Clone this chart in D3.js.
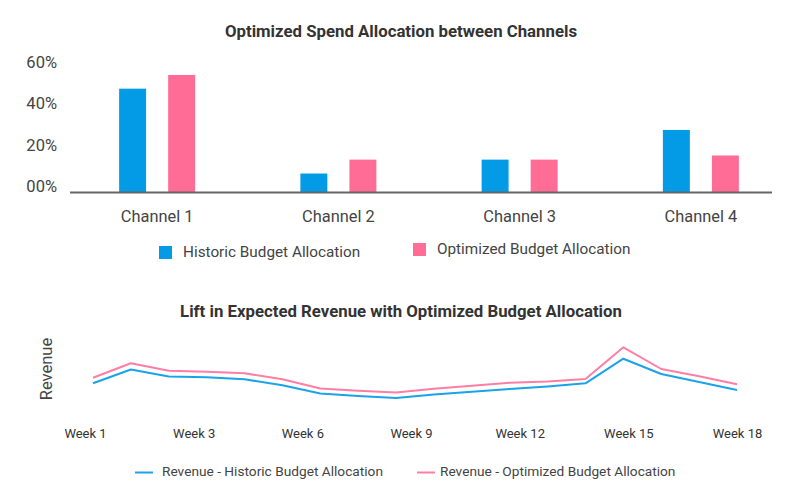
<!DOCTYPE html>
<html>
<head>
<meta charset="utf-8">
<script src="https://cdn.jsdelivr.net/npm/d3@7"></script>
<style>
  html, body { margin: 0; padding: 0; background: #fff; }
  svg { display: block; font-family: Roboto, "Noto Sans", sans-serif; }
</style>
</head>
<body>
<svg id="chart" width="800" height="501"></svg>
<script>
// ---- Data ----
const channels = ["Channel 1", "Channel 2", "Channel 3", "Channel 4"];
const historicShare = [49.8, 8.9, 15.6, 29.9];
const optimizedShare = [56.4, 15.6, 15.6, 17.6];
const shareTicks = [0, 20, 40, 60];

const weeks = d3.range(1, 19).map(d => "Week " + d);
const weekTickLabels = ["Week 1", "Week 3", "Week 6", "Week 9", "Week 12", "Week 15", "Week 18"];
const revenueHistoric = [26.7, 40.5, 33.5, 32.7, 30.7, 24.7, 16.5, 14.0, 12.0, 15.4, 18.2, 21.0, 23.6, 26.7, 51.3, 36.0, 28.0, 20.0];
const revenueOptimized = [32.3, 46.7, 39.3, 38.3, 36.7, 30.7, 21.5, 19.3, 17.5, 21.2, 24.2, 27.2, 28.5, 31.0, 62.7, 41.0, 33.8, 25.7];

const barSeries = [
  { name: "Historic Budget Allocation", values: historicShare, color: "#039be5" },
  { name: "Optimized Budget Allocation", values: optimizedShare, color: "#ff6d96" }
];
const lineSeries = [
  { name: "Revenue - Historic Budget Allocation", values: revenueHistoric, color: "#1aa3e8" },
  { name: "Revenue - Optimized Budget Allocation", values: revenueOptimized, color: "#ff7ea3" }
];

const svg = d3.select("#chart");

// ---- Bar chart ----
svg.append("text").attr("x", 401).attr("y", 33).attr("text-anchor", "middle")
  .attr("dominant-baseline", "middle").attr("font-size", 16.8).attr("font-weight", "bold")
  .attr("fill", "#333").text("Optimized Spend Allocation between Channels");

const x0 = d3.scaleBand().domain(channels).range([66.5, 791.5]).padding(0);
const x1 = d3.scaleBand().domain(barSeries.map(s => s.name)).range([-38, 38]).paddingInner(0.45).paddingOuter(0);
const y = d3.scaleLinear().domain([0, 60]).range([192, 67.5]);

const yAxis = svg.append("g").attr("transform", "translate(57,0)")
  .call(d3.axisLeft(y).tickValues(shareTicks).tickSize(0).tickPadding(0)
    .tickFormat(d => d3.format("02d")(d) + "%"));
yAxis.select(".domain").remove();
yAxis.selectAll("text").attr("font-size", 16.5).attr("fill", "#444")
  .attr("font-family", "Roboto, sans-serif").attr("dy", 0).attr("y", -4.5)
  .attr("dominant-baseline", "middle");

barSeries.forEach(s => {
  svg.append("g").selectAll("rect").data(channels).join("rect")
    .attr("x", (c) => x0(c) + x0.bandwidth() / 2 + x1(s.name))
    .attr("width", x1.bandwidth())
    .attr("y", (c, i) => y(s.values[i]))
    .attr("height", (c, i) => y(0) - y(s.values[i]))
    .attr("fill", s.color);
});

svg.append("line").attr("x1", 70).attr("x2", 772).attr("y1", y(0) + 0.5).attr("y2", y(0) + 0.5)
  .attr("stroke", "#666").attr("stroke-width", 2);

const xAxis = svg.append("g").attr("transform", `translate(0,${y(0)})`)
  .call(d3.axisBottom(x0).tickSize(0).tickPadding(0));
xAxis.select(".domain").remove();
xAxis.selectAll("text").attr("font-size", 16.4).attr("fill", "#444")
  .attr("font-family", "Roboto, sans-serif").attr("dy", 0).attr("y", 26)
  .attr("dominant-baseline", "middle");

// bar legend
const barLegendPos = [{ x: 159, y: 252.5 }, { x: 413, y: 249.5 }];
barSeries.forEach((s, i) => {
  const g = svg.append("g").attr("transform", `translate(${barLegendPos[i].x},${barLegendPos[i].y})`);
  g.append("rect").attr("x", 0).attr("y", -6.5).attr("width", 13).attr("height", 13).attr("fill", s.color);
  g.append("text").attr("x", 24).attr("y", 0).attr("dominant-baseline", "middle")
    .attr("font-size", 15.3).attr("fill", "#444").text(s.name);
});

// ---- Line chart ----
svg.append("text").attr("x", 401).attr("y", 313).attr("text-anchor", "middle")
  .attr("dominant-baseline", "middle").attr("font-size", 16.8).attr("font-weight", "bold")
  .attr("fill", "#333").text("Lift in Expected Revenue with Optimized Budget Allocation");

svg.append("text").attr("transform", "translate(48,369) rotate(-90)").attr("text-anchor", "middle")
  .attr("dominant-baseline", "middle").attr("font-size", 16.5).attr("fill", "#444").text("Revenue");

const xl = d3.scalePoint().domain(weeks).range([93, 737]);
const yl = d3.scaleLinear().domain([0, 70]).range([410, 340]);
const line = d3.line().x((d, i) => xl(weeks[i])).y(d => yl(d));

lineSeries.forEach(s => {
  svg.append("path").datum(s.values).attr("d", line).attr("fill", "none")
    .attr("stroke", s.color).attr("stroke-width", 2).attr("stroke-linejoin", "round");
});

const xlTicks = d3.scalePoint().domain(weekTickLabels).range([85, 737]);
const weekAxis = svg.append("g").attr("transform", "translate(0,435)")
  .call(d3.axisBottom(xlTicks).tickSize(0).tickPadding(0));
weekAxis.select(".domain").remove();
weekAxis.selectAll("text").attr("font-size", 13).attr("fill", "#333")
  .attr("font-family", "Roboto, sans-serif").attr("dy", 0).attr("y", 0)
  .attr("dominant-baseline", "middle");

const lineLegendPos = [{ x: 135, y: 472.5, tx: 27 }, { x: 417, y: 472.5, tx: 23 }];
lineSeries.forEach((s, i) => {
  const g = svg.append("g").attr("transform", `translate(${lineLegendPos[i].x},${lineLegendPos[i].y})`);
  g.append("line").attr("x1", 0).attr("x2", 18).attr("y1", 0).attr("y2", 0)
    .attr("stroke", s.color).attr("stroke-width", 2);
  g.append("text").attr("x", lineLegendPos[i].tx).attr("y", 0).attr("dominant-baseline", "middle")
    .attr("font-size", 13.7).attr("fill", "#444").text(s.name);
});
</script>
</body>
</html>
